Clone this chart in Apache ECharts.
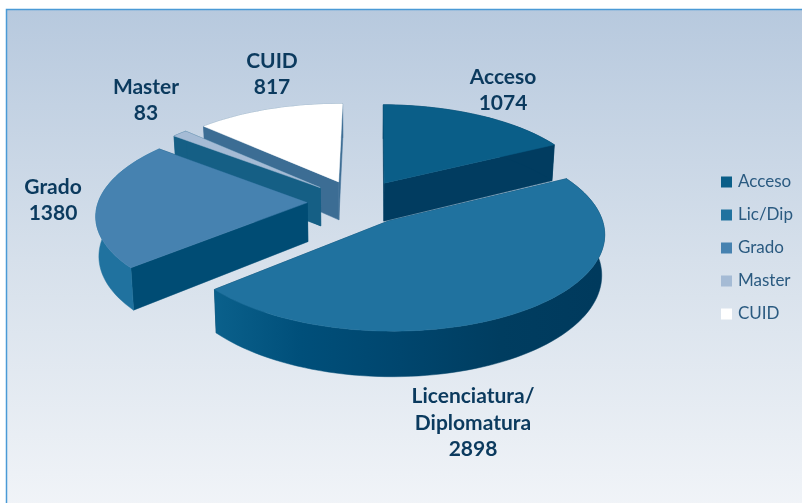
<!DOCTYPE html>
<html>
<head>
<meta charset="utf-8">
<style>
  html, body { margin: 0; padding: 0; background: #fff; }
  #main { width: 802px; height: 503px; }
</style>
</head>
<body>
<div id="main"></div>
<script src="https://cdn.jsdelivr.net/npm/echarts@6/dist/echarts.min.js"></script>
<script>
const categories = ['Acceso', 'Lic/Dip', 'Grado', 'Master', 'CUID']
const values = [1074, 2898, 1380, 83, 817]
const labels = ['Acceso\n1074', 'Licenciatura/\nDiplomatura\n2898', 'Grado\n1380', 'Master\n83', 'CUID\n817']
const topColors = ['#0a5e88', '#20729f', '#4682b0', '#a5bbd5', '#ffffff']
const innerColors = ['#013c60', '#013c60', '#004c74', '#155f85', '#3c6d94']

// pie projection
const cx = 358.5
const cy = 202
const rx = 209
const ry = 92
const persp = 0.12
const explode = 0.245
const depth = 39
const rotation = 0.6
const baseShrink = 0.988
const labelSpots = [[503, 90], [473, 423], [53, 200], [146, 100], [272, 74]]

const total = values.reduce((a, b) => a + b, 0)
const angles = []
values.reduce((sum, v) => {
  angles.push([sum / total * 360, (sum + v) / total * 360])
  return sum + v
}, 0)

function project (x, y, down) {
  const s = 1 / (1 + persp * y)
  if (down) {
    return [cx + s * x * rx * baseShrink, cy - s * y * ry + s * depth]
  }
  return [cx + s * x * rx, cy - s * y * ry]
}

function rim (i, deg, down) {
  const [a, b] = angles[i]
  const mid = (a + b) / 2 * Math.PI / 180
  const t = (deg + rotation) * Math.PI / 180
  return project(explode * Math.sin(mid) + Math.sin(t), explode * Math.cos(mid) + Math.cos(t), down)
}

function apex (i, down) {
  const [a, b] = angles[i]
  const mid = (a + b) / 2 * Math.PI / 180
  return project(explode * Math.sin(mid), explode * Math.cos(mid), down)
}

function arcPoints (i, down) {
  const [a, b] = angles[i]
  const pts = []
  const n = Math.max(2, Math.ceil((b - a) / 2))
  for (let k = 0; k <= n; k++) {
    pts.push(rim(i, a + (b - a) * k / n, down))
  }
  return pts
}

function poly (points, fill) {
  return { type: 'polygon', shape: { points }, style: { fill, stroke: fill, lineWidth: 0.5 }, silent: true }
}

function sideFill (i) {
  if (i === 1) {
    return {
      type: 'linear', x: 216, y: 0, x2: 600, y2: 0, global: true,
      colorStops: [
        { offset: 0, color: '#0a608b' },
        { offset: 0.22, color: '#004f7a' },
        { offset: 0.48, color: '#00466e' },
        { offset: 0.74, color: '#003d60' },
        { offset: 1, color: '#003a5d' }
      ]
    }
  }
  if (i === 2) return '#20729f'
  return innerColors[i]
}

function renderSlice (i) {
  return function () {
    const [a, b] = angles[i]
    const topArc = arcPoints(i, false)
    const lowArc = arcPoints(i, true)
    const children = [
      poly([apex(i, false), rim(i, b, false), rim(i, b, true), apex(i, true)], innerColors[i]),
      poly([apex(i, false), rim(i, a, false), rim(i, a, true), apex(i, true)], innerColors[i]),
      poly(topArc.concat(lowArc.slice().reverse()), sideFill(i)),
      poly([apex(i, false)].concat(topArc), topColors[i]),
      {
        type: 'text',
        x: labelSpots[i][0],
        y: labelSpots[i][1],
        silent: true,
        z2: 10,
        style: {
          text: labels[i],
          font: 'bold 21px Lato',
          fill: '#0b3a5e',
          align: 'center',
          verticalAlign: 'middle',
          lineHeight: 26.5
        }
      }
    ]
    return { type: 'group', children }
  }
}

// painter order, back to front
const drawOrder = [4, 3, 2, 0, 1]

const chart = echarts.init(document.getElementById('main'), null, { renderer: 'canvas' })
chart.setOption({
  animation: false,
  backgroundColor: '#fff',
  graphic: [{
    type: 'rect',
    z: -10,
    silent: true,
    shape: { x: 6.5, y: 9.5, width: 800, height: 500 },
    style: {
      stroke: '#4a9ad6',
      lineWidth: 1.5,
      fill: {
        type: 'linear', x: 0, y: 0, x2: 0, y2: 1,
        colorStops: [
          { offset: 0, color: '#b7c9de' },
          { offset: 0.5, color: '#d6e0eb' },
          { offset: 1, color: '#f1f4f8' }
        ]
      }
    }
  }],
  legend: {
    orient: 'vertical',
    left: 721,
    top: 173,
    padding: 0,
    itemWidth: 11,
    itemHeight: 11,
    itemGap: 15,
    icon: 'rect',
    selectedMode: false,
    data: categories,
    textStyle: { fontFamily: 'Lato', fontSize: 17, color: '#2a5a80', lineHeight: 18, padding: [0, 0, 0, 1] }
  },
  series: drawOrder.map(i => ({
    type: 'custom',
    name: categories[i],
    coordinateSystem: 'none',
    itemStyle: { color: topColors[i] },
    data: [[values[i]]],
    renderItem: renderSlice(i)
  }))
})
</script>
</body>
</html>
